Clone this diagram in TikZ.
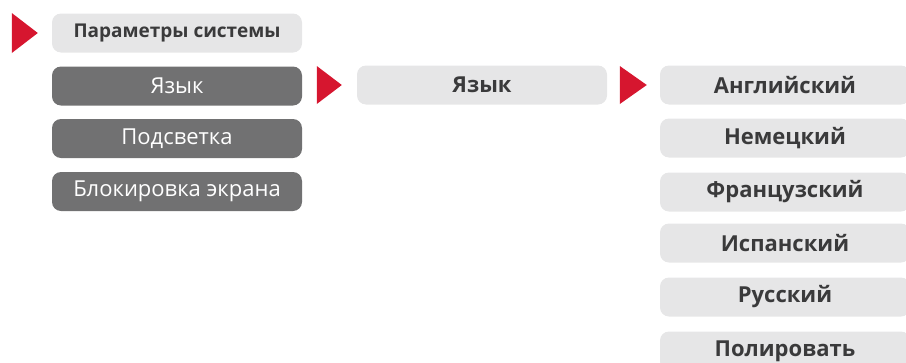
\documentclass[tikz,border=0pt]{standalone}
\usepackage{fontspec}
\setmainfont{Open Sans}
\usetikzlibrary{positioning}

\definecolor{paleback}{HTML}{E6E6E7}
\definecolor{darkback}{HTML}{717172}
\definecolor{labelgray}{HTML}{3A3A3B}
\definecolor{pointred}{HTML}{D6162F}

\tikzset{
  lightbox/.style={rectangle,rounded corners=9pt,fill=paleback,text=labelgray,
    minimum width=250pt,minimum height=39pt,inner sep=0pt,
    font=\bfseries\fontsize{22}{22}\selectfont},
  headbox/.style={lightbox,font=\bfseries\fontsize{19}{19}\selectfont},
  darkbox/.style={lightbox,fill=darkback,text=white,
    font=\mdseries\fontsize{22}{22}\selectfont},
  pointer/.style={fill=pointred}
}

\begin{document}
\begin{tikzpicture}[x=1pt,y=-1pt]
        \useasboundingbox (0,0) rectangle (906,362);

        % settings column
        \node[headbox] (params) at (177,33)    {Параметры системы};
        \node[darkbox] (lang)   at (177,86)    {Язык};
        \node[darkbox] (light)  at (177,138.5) {Подсветка};
        \node[darkbox] (lock)   at (177,191.5) {Блокировка экрана};

        % language column
        \node[lightbox] (langsel) at (482,85) {Язык};

        % languages
        \begin{scope}[every node/.style={lightbox}]
          \node (en) at (785,85)  {Английский};
          \node (de) at (785,138) {Немецкий};
          \node (fr) at (785,192) {Французский};
          \node (es) at (785,243) {Испанский};
          \node (ru) at (785,297) {Русский};
          \node (pl) at (785,351) {Полировать};
        \end{scope}

        % pointers
        \fill[pointer] ([xshift=-40pt,yshift=20pt]params.west) -- ++(26,20) -- ++(-26,20) -- cycle;
        \fill[pointer] ([xshift=-40pt,yshift=19pt]langsel.west) -- ++(25,19) -- ++(-25,19) -- cycle;
        \fill[pointer] ([xshift=-40pt,yshift=19pt]en.west) -- ++(27,19) -- ++(-27,19) -- cycle;

      \end{tikzpicture}
\end{document}
